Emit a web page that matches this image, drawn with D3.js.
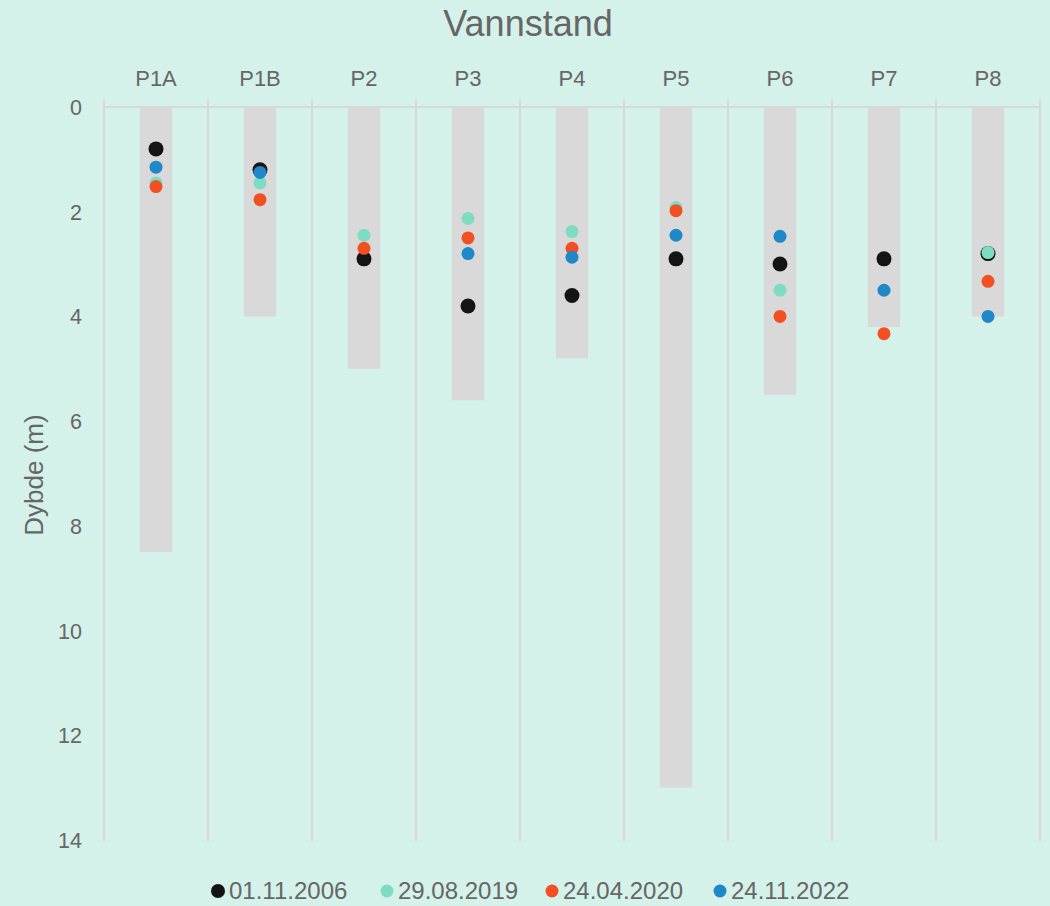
<!DOCTYPE html>
<meta charset="utf-8">
<script src="https://cdn.jsdelivr.net/npm/d3@7"></script>
<style>
  body { margin: 0; background: #d4f1ea; }
  text { font-family: "Liberation Sans", Arial, sans-serif; fill: #666; }
</style>
<div id="vis"></div>
<script>
// brønner (categories)
const wells = ["P1A", "P1B", "P2", "P3", "P4", "P5", "P6", "P7", "P8"];
// bunn av brønn (m)
const wellDepth = [8.5, 4.0, 5.0, 5.6, 4.8, 13.0, 5.5, 4.2, 4.0];
// målinger per dato
const dates = ["01.11.2006", "29.08.2019", "24.04.2020", "24.11.2022"];
const m2006 = [0.8, 1.2, 2.9, 3.8, 3.6, 2.9, 3.0, 2.9, 2.8];
const m2019 = [1.45, 1.45, 2.45, 2.13, 2.38, 1.92, 3.5, null, 2.78];
const m2020 = [1.52, 1.77, 2.7, 2.5, 2.7, 1.98, 4.0, 4.33, 3.33];
const m2022 = [1.15, 1.25, null, 2.8, 2.87, 2.45, 2.47, 3.5, 4.0];
const yTicks = [0, 2, 4, 6, 8, 10, 12, 14];

const colors = ["#141414", "#7ddcc2", "#f25022", "#1f88c8"];
const radius = [7.5, 6.5, 6.5, 6.5];
const series = [m2006, m2019, m2020, m2022];

const W = 1050, H = 906;
const margin = {top: 107, right: 10, bottom: 66, left: 104};

const svg = d3.select("#vis").append("svg")
  .attr("width", W).attr("height", H);

svg.append("rect").attr("width", W).attr("height", H).attr("fill", "#d4f1ea");

const x = d3.scaleBand()
  .domain(wells)
  .range([margin.left, W - margin.right]);

const y = d3.scaleLinear()
  .domain([0, 14])
  .range([margin.top, H - margin.bottom]);

// vertical gridlines between categories
const edges = wells.map(d => x(d)).concat([x.range()[1]]);
svg.append("g").selectAll("line")
  .data(edges)
  .join("line")
  .attr("x1", d => d).attr("x2", d => d)
  .attr("y1", y(0) - 7)
  .attr("y2", y(14) + 1)
  .attr("stroke", "#d9d9d9").attr("stroke-width", 2);

// top axis line
svg.append("line")
  .attr("x1", x.range()[0]).attr("x2", x.range()[1])
  .attr("y1", y(0)).attr("y2", y(0))
  .attr("stroke", "#d9d9d9").attr("stroke-width", 2);

// bars = well depth
const bw = x.bandwidth() * 0.31;
svg.append("g").selectAll("rect")
  .data(wells)
  .join("rect")
  .attr("x", d => x(d) + x.bandwidth() / 2 - bw / 2)
  .attr("y", y(0) + 1)
  .attr("width", bw)
  .attr("height", (d, i) => y(wellDepth[i]) - y(0) - 1)
  .attr("fill", "#d9d9d9");

// category labels on top
svg.append("g").selectAll("text")
  .data(wells)
  .join("text")
  .attr("x", d => x(d) + x.bandwidth() / 2)
  .attr("y", 86)
  .attr("text-anchor", "middle")
  .attr("font-size", 22)
  .text(d => d);

// y tick labels
svg.append("g").selectAll("text")
  .data(yTicks)
  .join("text")
  .attr("x", 82)
  .attr("y", d => y(d) + 8)
  .attr("text-anchor", "end")
  .attr("font-size", 21.5)
  .text(d => d);

// points
series.forEach((s, k) => {
  svg.append("g").selectAll("circle")
    .data(wells.map((w, i) => ({w, v: s[i]})).filter(d => d.v != null))
    .join("circle")
    .attr("cx", d => x(d.w) + x.bandwidth() / 2)
    .attr("cy", d => y(d.v))
    .attr("r", radius[k])
    .attr("fill", colors[k]);
});

// title
svg.append("text")
  .attr("x", 528).attr("y", 36)
  .attr("text-anchor", "middle")
  .attr("font-size", 36)
  .text("Vannstand");

// y axis title
svg.append("text")
  .attr("transform", "translate(43,475) rotate(-90)")
  .attr("text-anchor", "middle")
  .attr("font-size", 26)
  .text("Dybde (m)");

// legend
const legX = [211, 380, 545, 713];
const leg = svg.append("g").selectAll("g")
  .data(dates)
  .join("g")
  .attr("transform", (d, i) => "translate(" + legX[i] + ",891)");
leg.append("circle")
  .attr("cx", 7).attr("cy", 0).attr("r", (d, i) => i == 0 ? 7 : 6.5)
  .attr("fill", (d, i) => colors[i]);
leg.append("text")
  .attr("x", 18).attr("y", 8)
  .attr("font-size", 24)
  .text(d => d);
</script>
